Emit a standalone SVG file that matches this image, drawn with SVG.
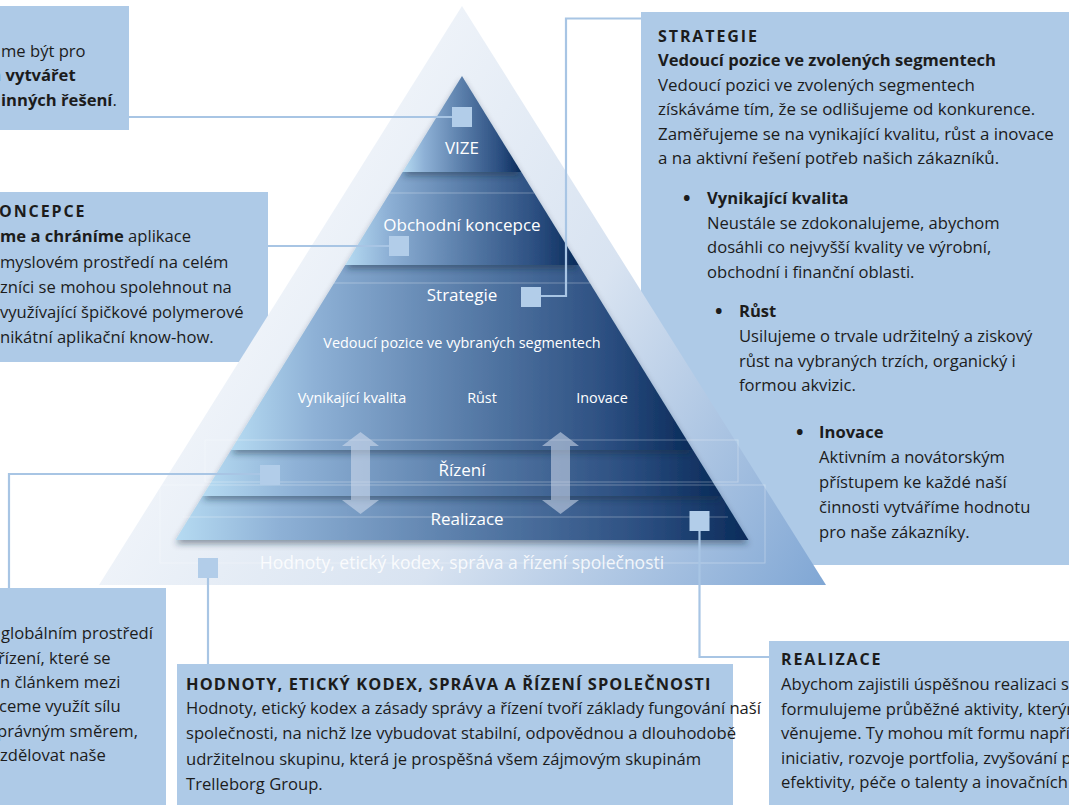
<svg xmlns="http://www.w3.org/2000/svg" width="1069" height="805" viewBox="0 0 1069 805">
<style>
.box{fill:#aecae7}
.t{font-family:"Open Sans","Liberation Sans",sans-serif;font-size:16.6px;fill:#1c1c1c}
.b{font-weight:bold}
.bu{font-family:"Open Sans","Liberation Sans",sans-serif;font-size:20px;font-weight:bold;fill:#1c1c1c}
.h{font-family:"Open Sans","Liberation Sans",sans-serif;font-size:16px;font-weight:bold;letter-spacing:1.9px;fill:#1c1c1c}
.pl{font-family:"Open Sans","Liberation Sans",sans-serif;font-size:17px;fill:#ffffff;text-anchor:middle}
.ps{font-family:"Open Sans","Liberation Sans",sans-serif;font-size:14.4px;fill:#ffffff;text-anchor:middle}
.con{fill:none;stroke:#a8c5e4;stroke-width:2.2}
.sq{fill:#b2cde9}
.tier{fill:url(#tg);filter:url(#sh)}
.fl{fill:none;stroke:#ffffff;stroke-opacity:0.3;stroke-width:1}
.arr{fill:#d5dfee;fill-opacity:0.55}
</style>
<defs>
<linearGradient id="og" gradientUnits="userSpaceOnUse" x1="230" y1="220" x2="830" y2="585">
<stop offset="0" stop-color="#f4f7fb"/>
<stop offset="0.5" stop-color="#d8e3f1"/>
<stop offset="1" stop-color="#7fa6d4"/>
</linearGradient>
<linearGradient id="tg" x1="0" y1="0" x2="1" y2="0">
<stop offset="0" stop-color="#b6dbf2"/>
<stop offset="0.18" stop-color="#8eb1d6"/>
<stop offset="0.5" stop-color="#5a7eaa"/>
<stop offset="0.82" stop-color="#2b4e80"/>
<stop offset="1" stop-color="#0a2b5a"/>
</linearGradient>
<filter id="sh" x="-10%" y="-10%" width="120%" height="140%">
<feDropShadow dx="0" dy="4" stdDeviation="3" flood-color="#1a2a40" flood-opacity="0.45"/>
</filter>
</defs>

<g id="box-vize"><rect class="box" x="0" y="6" width="129" height="124"/></g>
<g id="box-koncepce"><rect class="box" x="0" y="192" width="268" height="170"/></g>
<g id="box-rizeni"><rect class="box" x="0" y="588" width="166" height="217"/></g>
<g id="box-hodnoty"><rect class="box" x="177" y="664" width="556" height="141"/></g>
<g id="box-realizace"><rect class="box" x="769" y="641" width="300" height="164"/></g>
<g id="box-strategie"><rect class="box" x="641" y="12" width="428" height="553"/></g>

<g id="pyramid">
<polygon points="462,6 826,585 99,585" fill="url(#og)"/>
<text x="462" y="569" class="pl" style="font-size:17.5px" fill-opacity="0.85">Hodnoty, etický kodex, správa a řízení společnosti</text>
<polygon class="tier" points="202.6,496 721.4,496 748.5,540 175.5,540"/>
<polygon class="tier" points="231.1,450 692.9,450 721.4,496 202.6,496"/>
<polygon class="tier" points="345.3,265 578.7,265 692.9,450 231.1,450"/>
<polygon class="tier" points="402.7,172 521.3,172 578.7,265 345.3,265"/>
<polygon class="tier" points="462,76 521.3,172 402.7,172"/>
<line class="fl" x1="390" y1="193" x2="534" y2="193"/>
<line class="fl" x1="334" y1="283" x2="590" y2="283"/>
<rect class="fl" x="205" y="440" width="533" height="42"/>
<rect class="fl" x="160" y="485" width="605" height="78"/>
<line class="fl" x1="183" y1="517" x2="728" y2="517"/>
<path class="arr" d="M360.5,432 L379,446 L370,446 L370,500 L379,500 L360.5,514 L342,500 L351,500 L351,446 L342,446 Z"/>
<path class="arr" d="M560.5,432 L579,446 L570,446 L570,500 L579,500 L560.5,514 L542,500 L551,500 L551,446 L542,446 Z"/>
<text x="462" y="154" class="pl">VIZE</text>
<text x="462" y="231" class="pl">Obchodní koncepce</text>
<text x="462" y="301" class="pl">Strategie</text>
<text x="462" y="348" class="ps">Vedoucí pozice ve vybraných segmentech</text>
<text x="352" y="403" class="ps">Vynikající kvalita</text>
<text x="482" y="403" class="ps">Růst</text>
<text x="602" y="403" class="ps">Inovace</text>
<text x="462" y="476" class="pl">Řízení</text>
<text x="467" y="525" class="pl">Realizace</text>
</g>

<g id="connectors">
<polyline class="con" points="129,117 452,117"/>
<polyline class="con" points="268,246 390,246"/>
<polyline class="con" points="541,296 566,296 566,18.5 641,18.5"/>
<polyline class="con" points="260,474 9,474 9,588"/>
<polyline class="con" points="699.5,531 699.5,657 769,657"/>
<polyline class="con" points="208,578 208,664"/>
</g>

<g id="markers">
<rect class="sq" x="452" y="107" width="20" height="20"/>
<rect class="sq" x="389" y="236" width="20" height="20"/>
<rect class="sq" x="521" y="287" width="20" height="20"/>
<rect class="sq" x="260" y="465" width="20" height="20"/>
<rect class="sq" x="689.5" y="511" width="20" height="20"/>
<rect class="sq" x="198" y="558" width="20" height="20"/>
</g>

<g id="text-vize">
<text class="t" x="1" y="57">me být pro</text>
<text class="t" x="-8" y="81">a <tspan class="b">vytvářet</tspan></text>
<text class="t" x="1" y="106"><tspan class="b">inných řešení</tspan>.</text>
</g>

<g id="text-koncepce">
<text class="h" x="-1" y="217">ONCEPCE</text>
<text class="t" x="0" y="242"><tspan class="b">me a chráníme</tspan> aplikace</text>
<text class="t" x="0" y="267.5">myslovém prostředí na celém</text>
<text class="t" x="0" y="292.5">zníci se mohou spolehnout na</text>
<text class="t" x="0" y="317.5">využívající špičkové polymerové</text>
<text class="t" x="0" y="342.5">nikátní aplikační know-how.</text>
</g>

<g id="text-rizeni">
<text class="t" x="1" y="639">globálním prostředí</text>
<text class="t" x="-2" y="663.5">řízení, které se</text>
<text class="t" x="0" y="688">n článkem mezi</text>
<text class="t" x="-1" y="712">ceme využít sílu</text>
<text class="t" x="-3" y="736.5">právným směrem,</text>
<text class="t" x="0" y="761">zdělovat naše</text>
</g>

<g id="text-hodnoty">
<text class="t b" x="186" y="689.5" style="font-size:16.4px;letter-spacing:1.1px">HODNOTY, ETICKÝ KODEX, SPRÁVA A ŘÍZENÍ SPOLEČNOSTI</text>
<text class="t" x="186" y="713.5">Hodnoty, etický kodex a zásady správy a řízení tvoří základy fungování naší</text>
<text class="t" x="186" y="739">společnosti, na nichž lze vybudovat stabilní, odpovědnou a dlouhodobě</text>
<text class="t" x="186" y="764.5">udržitelnou skupinu, která je prospěšná všem zájmovým skupinám</text>
<text class="t" x="186" y="790">Trelleborg Group.</text>
</g>

<g id="text-realizace">
<text class="h" x="781" y="665">REALIZACE</text>
<text class="t" x="781" y="690">Abychom zajistili úspěšnou realizaci s</text>
<text class="t" x="781" y="715">formulujeme průběžné aktivity, kterým</text>
<text class="t" x="781" y="739">věnujeme. Ty mohou mít formu napří</text>
<text class="t" x="781" y="763.5">iniciativ, rozvoje portfolia, zvyšování p</text>
<text class="t" x="781" y="788">efektivity, péče o talenty a inovačních</text>
</g>

<g id="text-strategie">
<text class="h" x="658" y="41.5">STRATEGIE</text>
<text class="t b" x="658" y="66">Vedoucí pozice ve zvolených segmentech</text>
<text class="t" x="658" y="90.5" style="font-size:16.9px">Vedoucí pozici ve zvolených segmentech</text>
<text class="t" x="658" y="115" style="font-size:16.9px">získáváme tím, že se odlišujeme od konkurence.</text>
<text class="t" x="658" y="139.5" style="font-size:16.9px">Zaměřujeme se na vynikající kvalitu, růst a inovace</text>
<text class="t" x="658" y="164" style="font-size:16.9px">a na aktivní řešení potřeb našich zákazníků.</text>
<text class="bu" x="683" y="205">•</text>
<text class="t b" x="707" y="204">Vynikající kvalita</text>
<text class="t" x="707" y="228.5">Neustále se zdokonalujeme, abychom</text>
<text class="t" x="707" y="253">dosáhli co nejvyšší kvality ve výrobní,</text>
<text class="t" x="707" y="278">obchodní i finanční oblasti.</text>
<text class="bu" x="715" y="317.5">•</text>
<text class="t b" x="739" y="316.5">Růst</text>
<text class="t" x="739" y="342">Usilujeme o trvale udržitelný a ziskový</text>
<text class="t" x="739" y="366.5">růst na vybraných trzích, organický i</text>
<text class="t" x="739" y="391">formou akvizic.</text>
<text class="bu" x="796" y="438.5">•</text>
<text class="t b" x="819" y="437.5">Inovace</text>
<text class="t" x="819" y="462.5">Aktivním a novátorským</text>
<text class="t" x="819" y="487.5">přístupem ke každé naší</text>
<text class="t" x="819" y="512.5">činnosti vytváříme hodnotu</text>
<text class="t" x="819" y="537.5">pro naše zákazníky.</text>
</g>
</svg>
